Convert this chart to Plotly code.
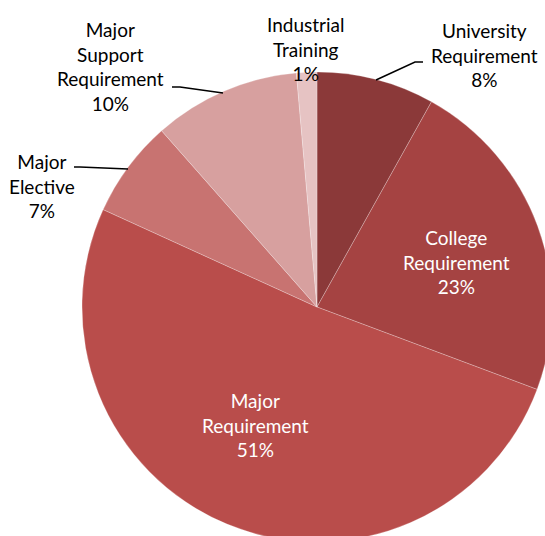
import plotly.graph_objects as go

categories = ["University Requirement", "College Requirement", "Major Requirement",
              "Major Elective", "Major Support Requirement", "Industrial Training"]
values = [8.1, 22.6, 51.1, 6.7, 10.1, 1.4]
colors = ["#8B3939", "#A54342", "#B94D4B", "#C87371", "#D7A09F", "#E6C3C3"]

W, H = 560, 550
cx, cy, r = 317, 307, 235

fig = go.Figure(go.Pie(
    labels=categories, values=values, sort=False, direction="clockwise", rotation=0,
    marker=dict(colors=colors, line=dict(color="rgba(255,255,255,0.35)", width=0.7)),
    textinfo="none", showlegend=False, hoverinfo="label+percent",
    domain=dict(x=[(cx - r) / W, (cx + r) / W], y=[1 - (cy + r) / H, 1 - (cy - r) / H]),
))

total = sum(values)
pct = [f"{round(v / total * 100):d}%" for v in values]

label_text = {
    "University Requirement": "University<br>Requirement",
    "College Requirement": "College<br>Requirement",
    "Major Requirement": "Major<br>Requirement",
    "Major Elective": "Major<br>Elective",
    "Major Support Requirement": "Major<br>Support<br>Requirement",
    "Industrial Training": "Industrial<br>Training",
}
label_pos = {
    "University Requirement": (484, 55, "#000000"),
    "College Requirement": (456, 262, "#FFFFFF"),
    "Major Requirement": (255, 425, "#FFFFFF"),
    "Major Elective": (42, 186, "#000000"),
    "Major Support Requirement": (110, 66, "#000000"),
    "Industrial Training": (305, 49, "#000000"),
}
for cat, p in zip(categories, pct):
    x, y, c = label_pos[cat]
    fig.add_annotation(x=x / W, y=1 - y / H, xref="paper", yref="paper",
                       text=f"{label_text[cat]}<br>{p}", showarrow=False,
                       xanchor="center", yanchor="middle",
                       font=dict(family="Lato", size=19, color=c))

leaders = [
    [(376, 80), (415, 62), (423, 62)],
    [(172, 87), (180, 87), (223, 93)],
    [(74, 167), (80, 167), (128, 169)],
]
for pts in leaders:
    path = "M " + " L ".join(f"{x / W},{1 - y / H}" for x, y in pts)
    fig.add_shape(type="path", path=path, xref="paper", yref="paper",
                  line=dict(color="#000000", width=1.5))

fig.update_layout(width=W, height=H, margin=dict(l=0, r=0, t=0, b=0),
                  paper_bgcolor="white", plot_bgcolor="white")

fig.write_html("out.html", config={"displayModeBar": False}, post_script=(
    "document.body.style.margin='0';"
    "document.body.style.overflow='hidden';"
    "document.documentElement.style.overflow='hidden';"
))
